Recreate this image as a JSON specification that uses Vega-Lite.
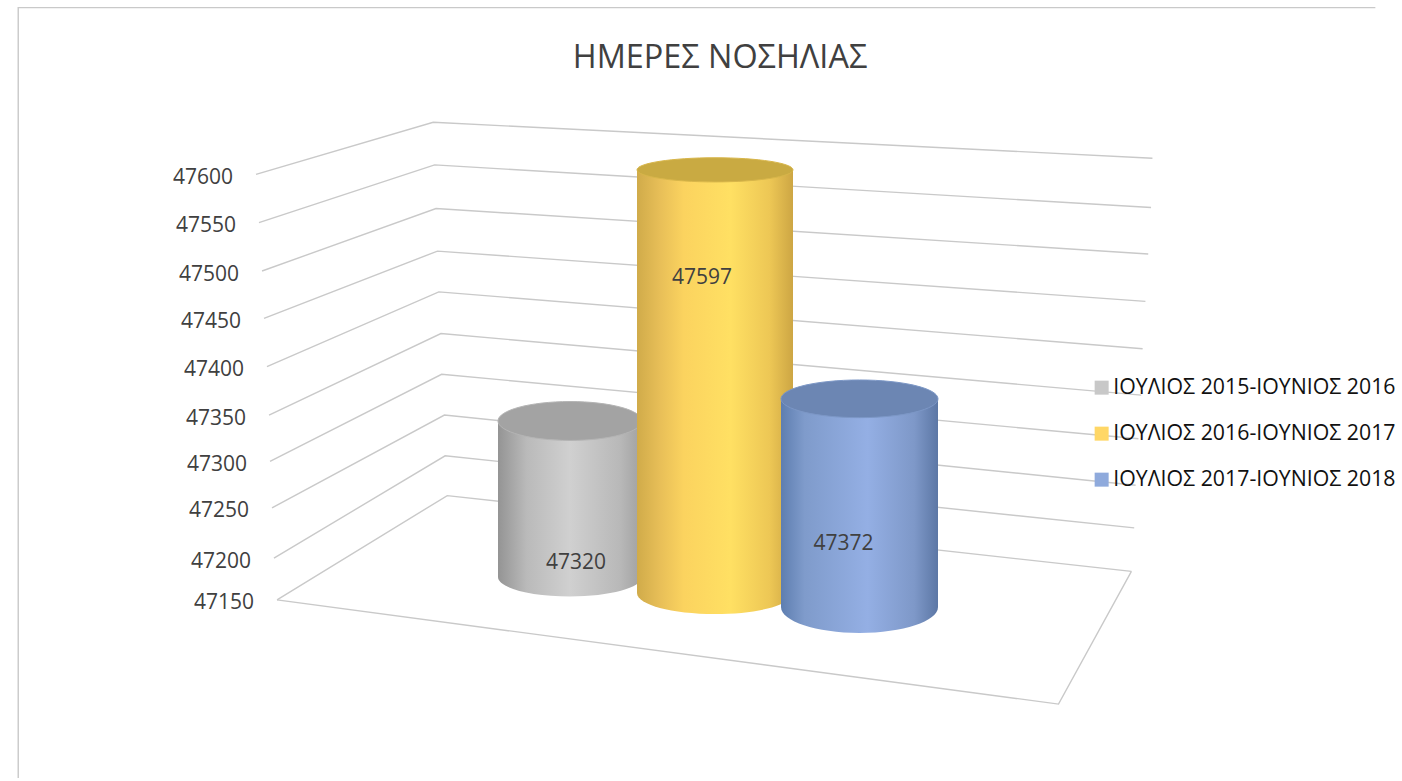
{
"$schema":"https://vega.github.io/schema/vega-lite/v6.json",
"width":1402,"height":781,"padding":0,
"autosize":{"type":"fit","contains":"padding"},
"background":"white",
"config":{"view":{"stroke":null}},
"title":{"text":"ΗΜΕΡΕΣ ΝΟΣΗΛΙΑΣ","anchor":"middle","frame":"group","offset":-74,"dx":19,"font":"Open Sans","fontSize":32.4,"fontWeight":"normal","color":"#404040"},
"datasets":{
"bars":[
{"period":"ΙΟΥΛΙΟΣ 2015-ΙΟΥΝΙΟΣ 2016","days":47320},
{"period":"ΙΟΥΛΙΟΣ 2016-ΙΟΥΝΙΟΣ 2017","days":47597},
{"period":"ΙΟΥΛΙΟΣ 2017-ΙΟΥΝΙΟΣ 2018","days":47372}],
"grid":[
{"line":"frame","i":0,"across":1.3,"level":46963},{"line":"frame","i":1,"across":1.3,"level":47776},{"line":"frame","i":2,"across":98.1,"level":47776},
{"line":"floor","i":0,"across":19.76,"level":47151},{"line":"floor","i":1,"across":75.5,"level":47041},{"line":"floor","i":2,"across":80.7,"level":47181},
{"line":"47600","i":0,"across":18.26,"level":47600},{"line":"47600","i":1,"across":30.9,"level":47655},{"line":"47600","i":2,"across":82.2,"level":47617},
{"line":"47550","i":0,"across":18.47,"level":47549},{"line":"47550","i":1,"across":31.0,"level":47610},{"line":"47550","i":2,"across":82.1,"level":47565},
{"line":"47500","i":0,"across":18.69,"level":47498},{"line":"47500","i":1,"across":31.1,"level":47564},{"line":"47500","i":2,"across":81.9,"level":47516},
{"line":"47450","i":0,"across":18.83,"level":47448},{"line":"47450","i":1,"across":31.2,"level":47519},{"line":"47450","i":2,"across":81.7,"level":47466},
{"line":"47400","i":0,"across":19.04,"level":47397},{"line":"47400","i":1,"across":31.3,"level":47476},{"line":"47400","i":2,"across":81.5,"level":47416},
{"line":"47350","i":0,"across":19.19,"level":47346},{"line":"47350","i":1,"across":31.45,"level":47432},{"line":"47350","i":2,"across":81.4,"level":47367},
{"line":"47300","i":0,"across":19.26,"level":47297},{"line":"47300","i":1,"across":31.5,"level":47389},{"line":"47300","i":2,"across":81.2,"level":47321},
{"line":"47250","i":0,"across":19.40,"level":47248},{"line":"47250","i":1,"across":31.7,"level":47346},{"line":"47250","i":2,"across":81.0,"level":47272},
{"line":"47200","i":0,"across":19.54,"level":47195},{"line":"47200","i":1,"across":31.75,"level":47303},{"line":"47200","i":2,"across":80.9,"level":47227},
{"line":"47150","i":0,"across":19.76,"level":47151},{"line":"47150","i":1,"across":31.9,"level":47261},{"line":"47150","i":2,"across":80.7,"level":47181}
]},
"resolve":{"scale":{"x":"independent","y":"independent"}},
"layer":[
{"data":{"name":"grid"},
 "encoding":{
  "x":{"field":"across","type":"quantitative","scale":{"domain":[0,100],"nice":false,"zero":false},"axis":null},
  "y":{"field":"level","type":"quantitative","scale":{"domain":[46963,47784],"nice":false,"zero":false},"axis":null}},
 "layer":[
  {"mark":{"type":"line","color":"#c9c9c9","strokeWidth":1.4},
   "encoding":{"detail":{"field":"line"},"order":{"field":"i","type":"ordinal"}}},
  {"transform":[{"filter":"datum.i==0 && datum.line!='frame' && datum.line!='floor'"}],
   "mark":{"type":"text","align":"right","baseline":"middle","dx":-23,"dy":3.5,"font":"Open Sans","fontSize":21,"color":"#404040"},
   "encoding":{"text":{"field":"line","type":"nominal"}}}
 ]},
{"data":{"name":"bars"},
 "transform":[{"filter":"datum.days==47320"}],
 "encoding":{
  "x":{"field":"period","type":"nominal","axis":null,"scale":{"type":"band","domain":["ΙΟΥΛΙΟΣ 2015-ΙΟΥΝΙΟΣ 2016"],"range":[498,642],"padding":0}},
  "y":{"field":"days","type":"quantitative","axis":null,"scale":{"domain":[47150,47600],"range":[577,164],"nice":false,"zero":false}}},
 "layer":[
  {"mark":{"type":"point","filled":true,"opacity":1,"shape":"M-1,0A1,0.27,0,1,1,1,0A1,0.27,0,1,1,-1,0Z","size":20736,"fill":{"gradient":"linear","x1":0,"y1":0,"x2":1,"y2":0,"stops":[{"offset":0,"color":"#949494"},{"offset":0.2,"color":"#bababa"},{"offset":0.5,"color":"#d0d0d0"},{"offset":0.85,"color":"#b8b8b8"},{"offset":1,"color":"#a0a0a0"}]}},
   "encoding":{"y":{"datum":47150,"type":"quantitative","axis":null,"scale":{"domain":[47150,47600],"range":[577,164],"nice":false,"zero":false}}}},
  {"mark":{"type":"bar","fill":{"gradient":"linear","x1":0,"y1":0,"x2":1,"y2":0,"stops":[{"offset":0,"color":"#949494"},{"offset":0.2,"color":"#bababa"},{"offset":0.5,"color":"#d0d0d0"},{"offset":0.85,"color":"#b8b8b8"},{"offset":1,"color":"#a0a0a0"}]}},
   "encoding":{"y2":{"datum":47150}}},
  {"mark":{"type":"point","filled":true,"opacity":1,"fill":"#a3a3a3","stroke":"#b4b4b4","strokeWidth":1,"shape":"M-1,0A1,0.27,0,1,1,1,0A1,0.27,0,1,1,-1,0Z","size":20736}},
  {"mark":{"type":"text","dx":6,"dy":142,"font":"Open Sans","fontSize":21,"color":"#404040","baseline":"middle"},"encoding":{"text":{"field":"days","type":"quantitative","format":"d"}}}
 ]},
{"data":{"name":"bars"},
 "transform":[{"filter":"datum.days==47597"}],
 "encoding":{
  "x":{"field":"period","type":"nominal","axis":null,"scale":{"type":"band","domain":["ΙΟΥΛΙΟΣ 2016-ΙΟΥΝΙΟΣ 2017"],"range":[637,793],"padding":0}},
  "y":{"field":"days","type":"quantitative","axis":null,"scale":{"domain":[47150,47600],"range":[593,167],"nice":false,"zero":false}}},
 "layer":[
  {"mark":{"type":"point","filled":true,"opacity":1,"shape":"M-1,0A1,0.27,0,1,1,1,0A1,0.27,0,1,1,-1,0Z","size":24336,"fill":{"gradient":"linear","x1":0,"y1":0,"x2":1,"y2":0,"stops":[{"offset":0,"color":"#d0ab4a"},{"offset":0.15,"color":"#e8bf58"},{"offset":0.3,"color":"#fbd35f"},{"offset":0.6,"color":"#ffe063"},{"offset":0.85,"color":"#edc755"},{"offset":1,"color":"#cda644"}]}},
   "encoding":{"y":{"datum":47150,"type":"quantitative","axis":null,"scale":{"domain":[47150,47600],"range":[593,167],"nice":false,"zero":false}}}},
  {"mark":{"type":"bar","fill":{"gradient":"linear","x1":0,"y1":0,"x2":1,"y2":0,"stops":[{"offset":0,"color":"#d0ab4a"},{"offset":0.15,"color":"#e8bf58"},{"offset":0.3,"color":"#fbd35f"},{"offset":0.6,"color":"#ffe063"},{"offset":0.85,"color":"#edc755"},{"offset":1,"color":"#cda644"}]}},
   "encoding":{"y2":{"datum":47150}}},
  {"mark":{"type":"point","filled":true,"opacity":1,"fill":"#c9aa42","stroke":"#d8b64a","strokeWidth":1,"shape":"M-1,0A1,0.155,0,1,1,1,0A1,0.155,0,1,1,-1,0Z","size":24336}},
  {"mark":{"type":"text","dx":-13,"dy":108,"font":"Open Sans","fontSize":21,"color":"#404040","baseline":"middle"},"encoding":{"text":{"field":"days","type":"quantitative","format":"d"}}}
 ]},
{"data":{"name":"bars"},
 "transform":[{"filter":"datum.days==47372"}],
 "encoding":{
  "x":{"field":"period","type":"nominal","axis":null,"scale":{"type":"band","domain":["ΙΟΥΛΙΟΣ 2017-ΙΟΥΝΙΟΣ 2018"],"range":[781,938],"padding":0}},
  "y":{"field":"days","type":"quantitative","axis":null,"scale":{"domain":[47150,47600],"range":[607,185],"nice":false,"zero":false}}},
 "layer":[
  {"mark":{"type":"point","filled":true,"opacity":1,"shape":"M-1,0A1,0.33,0,1,1,1,0A1,0.33,0,1,1,-1,0Z","size":24649,"fill":{"gradient":"linear","x1":0,"y1":0,"x2":1,"y2":0,"stops":[{"offset":0,"color":"#5e7eb0"},{"offset":0.15,"color":"#7f9bcb"},{"offset":0.55,"color":"#94afe4"},{"offset":0.85,"color":"#7e98c8"},{"offset":1,"color":"#5c77a5"}]}},
   "encoding":{"y":{"datum":47150,"type":"quantitative","axis":null,"scale":{"domain":[47150,47600],"range":[607,185],"nice":false,"zero":false}}}},
  {"mark":{"type":"bar","fill":{"gradient":"linear","x1":0,"y1":0,"x2":1,"y2":0,"stops":[{"offset":0,"color":"#5e7eb0"},{"offset":0.15,"color":"#7f9bcb"},{"offset":0.55,"color":"#94afe4"},{"offset":0.85,"color":"#7e98c8"},{"offset":1,"color":"#5c77a5"}]}},
   "encoding":{"y2":{"datum":47150}}},
  {"mark":{"type":"point","filled":true,"opacity":1,"fill":"#6c86b3","stroke":"#7c97c6","strokeWidth":1,"shape":"M-1,0A1,0.24,0,1,1,1,0A1,0.24,0,1,1,-1,0Z","size":24649}},
  {"mark":{"type":"text","dx":-16,"dy":145,"font":"Open Sans","fontSize":21,"color":"#404040","baseline":"middle"},"encoding":{"text":{"field":"days","type":"quantitative","format":"d"}}}
 ]},
{"data":{"name":"bars"},
 "mark":{"type":"point","filled":true,"opacity":0,"size":1},
 "encoding":{
  "color":{"field":"period","type":"nominal",
   "scale":{"domain":["ΙΟΥΛΙΟΣ 2015-ΙΟΥΝΙΟΣ 2016","ΙΟΥΛΙΟΣ 2016-ΙΟΥΝΙΟΣ 2017","ΙΟΥΛΙΟΣ 2017-ΙΟΥΝΙΟΣ 2018"],"range":["#c8c8c8","#ffd766","#8faadc"]},
   "legend":{"title":null,"orient":"none","legendX":1091,"legendY":377,"symbolType":"square","symbolSize":196,"symbolOpacity":1,"symbolStrokeWidth":0,"labelFont":"Open Sans","labelFontSize":21.3,"labelColor":"#111111","labelLimit":0,"rowPadding":24,"labelOffset":1}}}}
]}
